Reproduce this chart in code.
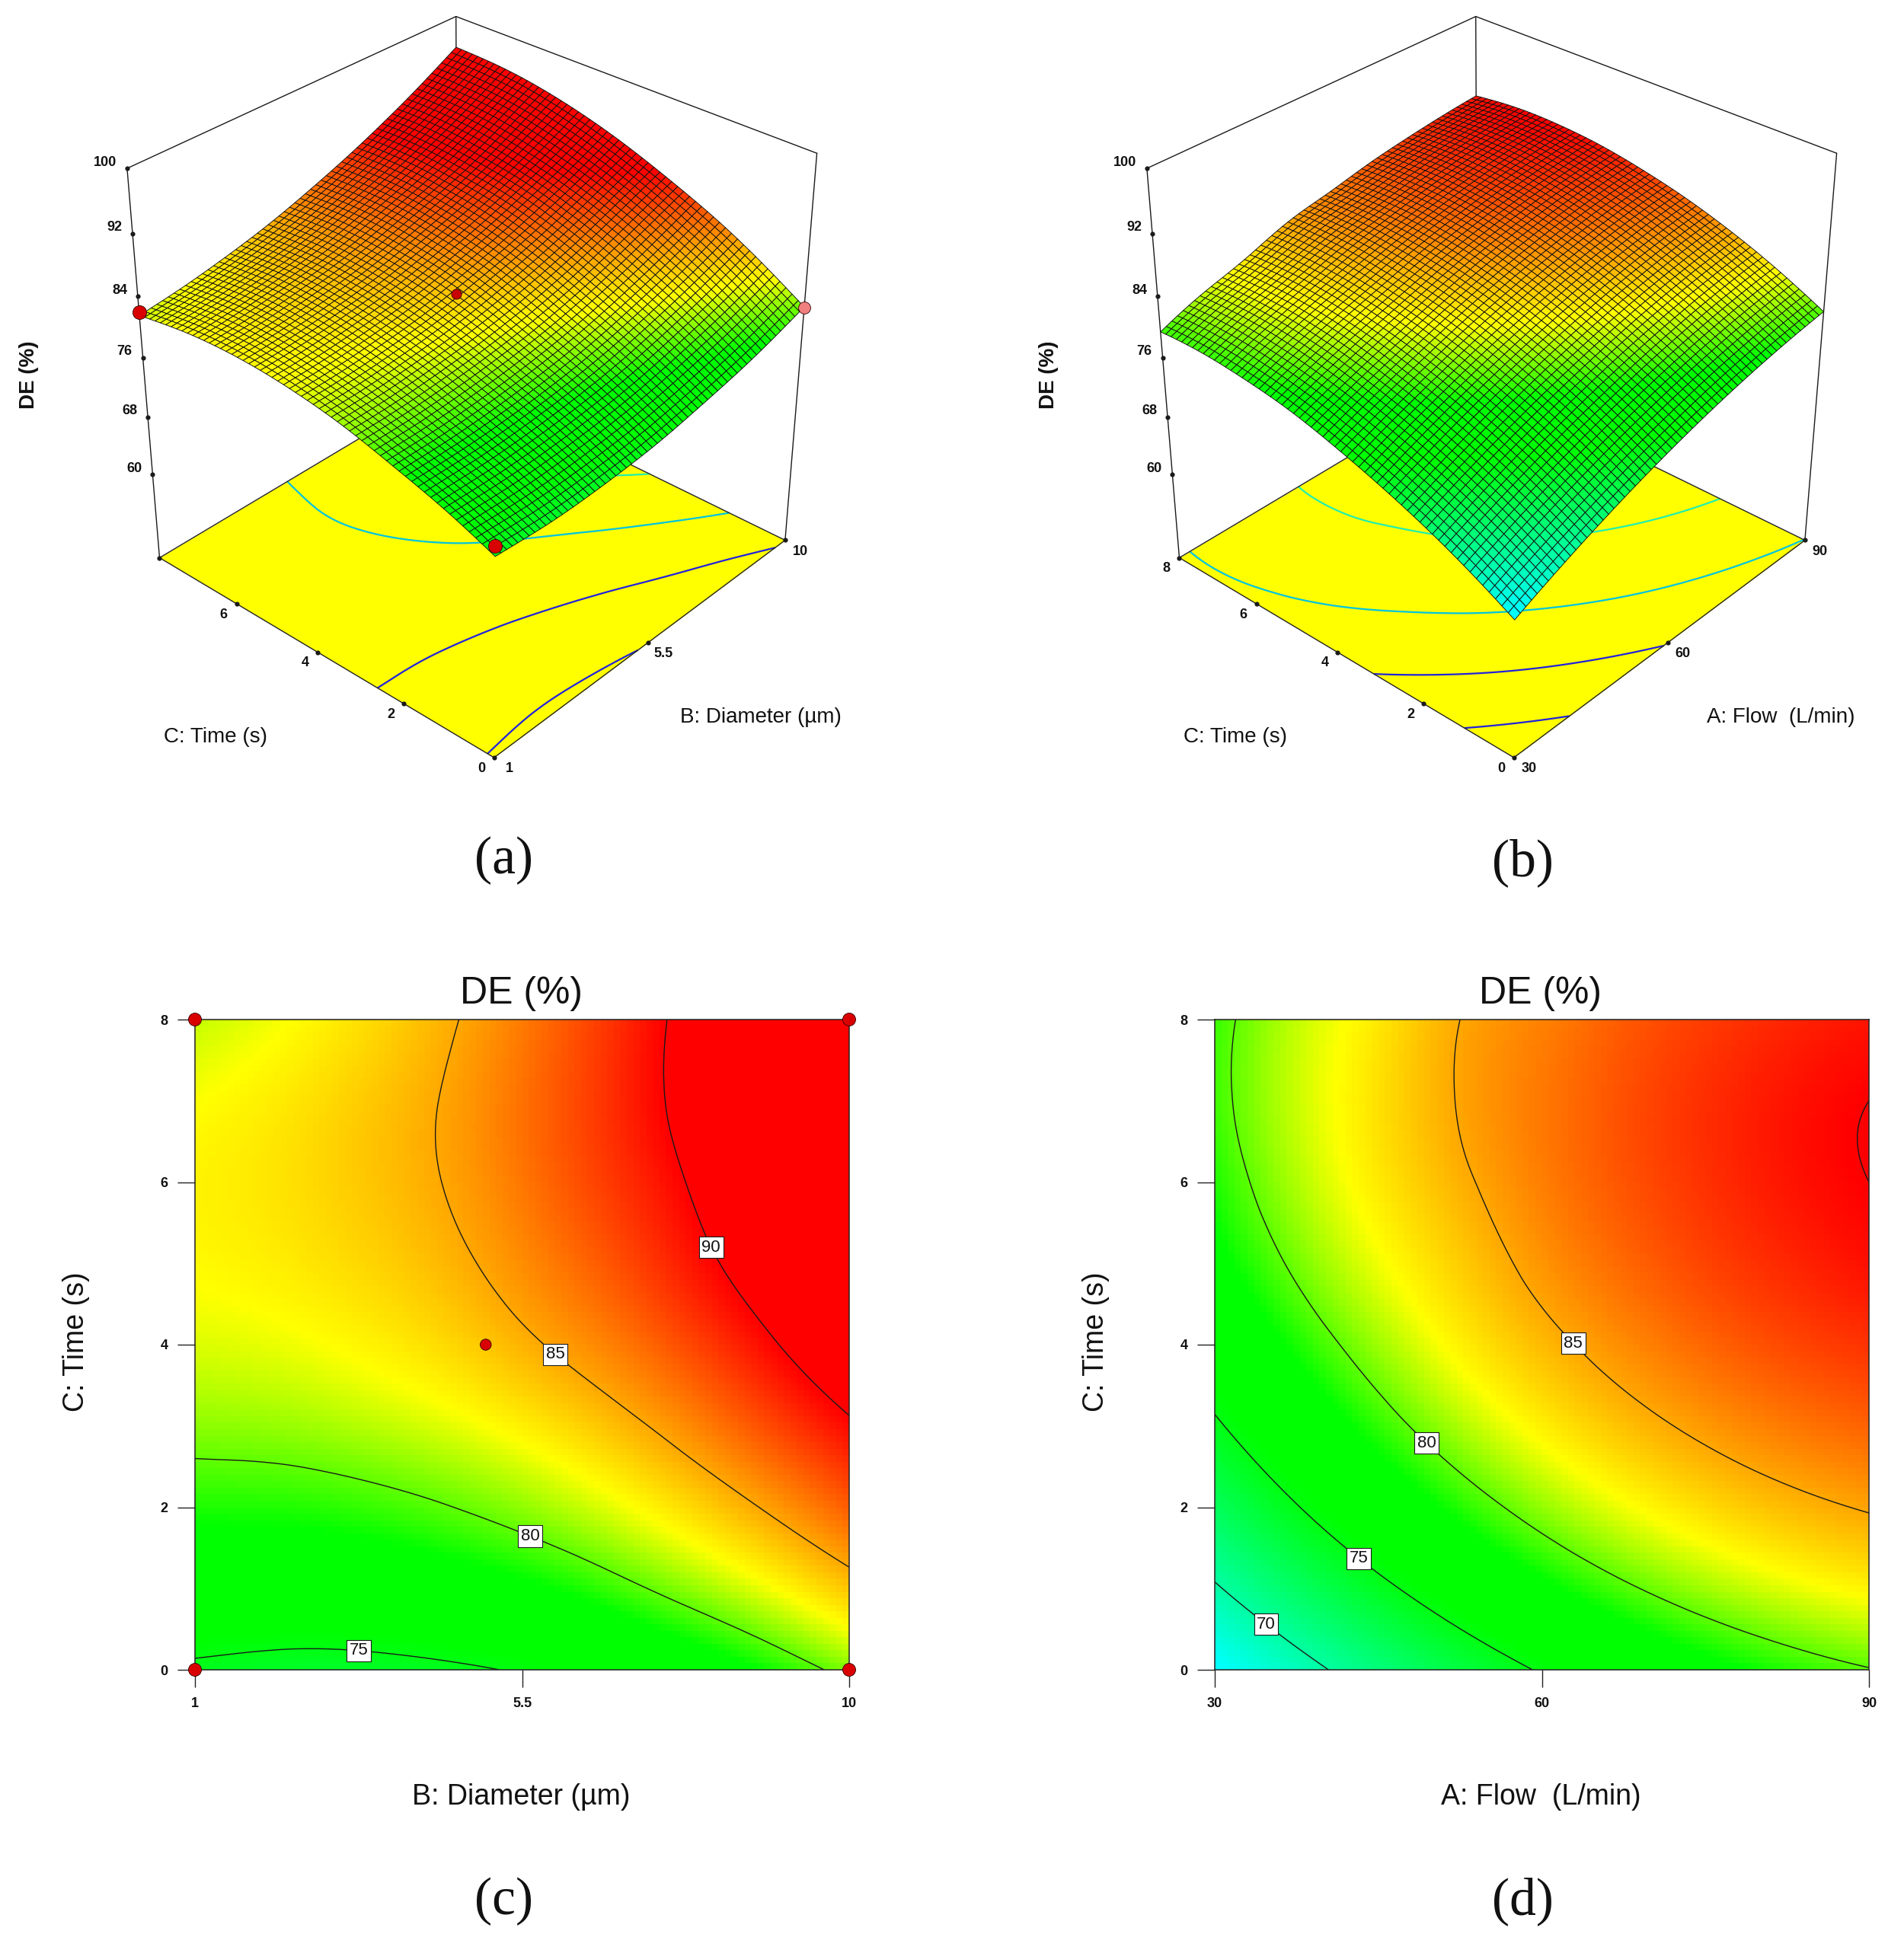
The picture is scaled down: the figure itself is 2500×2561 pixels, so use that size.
import numpy as np, pandas as pd, seaborn as sns
import matplotlib
matplotlib.use('Agg')
import matplotlib.pyplot as plt
from matplotlib.colors import LinearSegmentedColormap, Normalize
from matplotlib.tri import Triangulation, CubicTriInterpolator
from mpl_toolkits.mplot3d import proj3d

FW, FH = 2500, 2561
diameter_grid = [1, 2.125, 3.25, 4.375, 5.5, 6.625, 7.75, 8.875, 10]
flow_grid = [30, 37.5, 45, 52.5, 60, 67.5, 75, 82.5, 90]
time_grid = [0, 1, 2, 3, 4, 5, 6, 7, 8]
de_diameter_time = [
 [74.64,74.30,74.29,74.62,75.20,76.19,77.34,78.79,80.54],
 [77.05,76.95,77.10,77.55,78.25,79.30,80.66,82.24,84.13],
 [78.95,79.00,79.30,79.88,80.72,81.90,83.42,85.20,87.20],
 [80.65,80.80,81.25,81.90,82.85,84.15,85.80,87.72,89.70],
 [81.85,82.10,82.65,83.45,84.64,86.04,87.74,89.70,91.90],
 [82.55,82.90,83.55,84.45,85.78,87.32,89.16,91.25,93.65],
 [82.74,83.21,83.99,84.98,86.44,88.12,90.00,92.37,94.93],
 [82.38,82.99,83.90,85.03,86.63,88.44,90.56,92.97,95.68],
 [81.54,82.29,83.34,84.65,86.34,88.29,90.54,93.09,95.94]]
de_flow_time = [
 [66.56,69.08,71.36,73.40,75.19,76.74,78.04,79.10,79.92],
 [69.76,72.24,74.47,76.47,78.22,79.73,80.99,82.00,82.78],
 [72.47,74.90,77.10,79.05,80.76,82.23,83.44,84.42,85.15],
 [74.71,77.10,79.25,81.17,82.83,84.25,85.43,86.36,87.05],
 [76.60,78.90,80.93,82.80,84.42,85.80,86.93,87.82,88.47],
 [78.10,80.30,82.20,83.90,85.55,86.87,87.96,88.80,89.50],
 [79.00,81.20,83.02,84.70,86.20,87.46,88.50,89.35,90.00],
 [79.50,81.60,83.32,85.10,86.40,87.60,88.60,89.40,90.00],
 [79.40,81.50,83.10,85.00,86.15,87.30,88.20,88.90,89.40]]
z_ticks = [60, 68, 76, 84, 92, 100]
time_ticks = [2, 4, 6]
colour_values = [66.5, 75.5, 78.5, 82.4, 90.0]
colour_names = ['#00ffff', '#00ff00', '#00ff00', '#ffff00', '#ff0000']

sns.set_theme(style='white')
plt.rcParams['font.family'] = ['Liberation Sans', 'DejaVu Sans']
lo, hi = colour_values[0], colour_values[-1]
cmap = LinearSegmentedColormap.from_list('de', [((v-lo)/(hi-lo), c) for v, c in zip(colour_values, colour_names)], N=512)
norm = Normalize(lo, hi)

def refine(xs, ys, table, n):
    gx, gy = np.meshgrid(xs, ys)
    sx = (xs[-1]-xs[0]); sy = ys[-1]-ys[0]
    tri = Triangulation((gx.ravel()-xs[0])/sx, (gy.ravel()-ys[0])/sy)
    f = CubicTriInterpolator(tri, np.asarray(table).ravel(), kind='min_E')
    u = np.linspace(1e-7, 1-1e-7, n)
    U, V = np.meshgrid(u, u)
    Z = np.asarray(f(U, V))
    return xs[0]+u*sx, ys[0]+u*sy, Z

fig = plt.figure(figsize=(FW/100, FH/100), dpi=100, facecolor='white')

def px(x, y):
    return x/FW, 1-y/FH

ELEV, AZIM, HZ, RY, ZOOM = 32.38, -138.0, 0.993, 1.011, 1.671
LEFT, TOP, WID = 308.4, 181.2, 611.1

def panel3d(dx, xs, table, xticks, levels, dots, label_last):
    ax = fig.add_axes([(LEFT+dx)/FW, 1-(TOP+WID)/FH, WID/FW, WID/FH], projection='3d', computed_zorder=False)
    ax.patch.set_alpha(0)
    xl, xh, yl, yh, zl, zh = xs[0], xs[-1], time_grid[0], time_grid[-1], 48, 100
    ax.set_xlim(xl, xh, view_margin=0); ax.set_ylim(yl, yh, view_margin=0); ax.set_zlim(zl, zh, view_margin=0)
    ax.set_proj_type('persp'); ax.view_init(ELEV, AZIM); ax.set_box_aspect((1, RY, HZ), zoom=ZOOM)
    ax.set_axis_off()
    kw = dict(color='k', lw=1.0, zorder=1)
    ax.plot([xh, xl], [yh, yh], [zh, zh], **kw); ax.plot([xh, xh], [yh, yl], [zh, zh], **kw)
    ax.plot([xh, xh], [yh, yh], [zl, zh], **kw)
    ax.plot([xl, xl], [yh, yh], [zl, zh], **kw); ax.plot([xh, xh], [yl, yl], [zl, zh], **kw)
    F = np.array([[xl, xh], [xl, xh]]); G = np.array([[yl, yl], [yh, yh]])
    ax.plot_surface(F, G, np.full((2, 2), zl), color='#ffff00', shade=False, linewidth=0, zorder=2)
    fx, fy, fz = refine(xs, time_grid, table, 200)
    ax.contour(fx, fy, fz, levels=levels, zdir='z', offset=zl, colors=['#2222dd', '#2222dd', '#00c4e0', '#20efb0'], linewidths=1.6, zorder=3)
    kw = dict(color='#222222', lw=1.0, zorder=4)
    ax.plot([xl, xh], [yl, yl], [zl, zl], **kw); ax.plot([xl, xl], [yl, yh], [zl, zl], **kw)
    ax.plot([xh, xh], [yl, yh], [zl, zl], **kw); ax.plot([xl, xh], [yh, yh], [zl, zl], **kw)
    mx, my, mz = refine(xs, time_grid, table, 61)
    MX, MY = np.meshgrid(mx, my)
    ax.plot_surface(MX, MY, mz, facecolors=cmap(norm(mz)), shade=False, edgecolor='#101010', linewidth=0.65, rcount=61, ccount=61, zorder=5)
    M = ax.get_proj()
    def lab(x, y, z, text, ddx, ddy, ha='center'):
        X, Y, _ = proj3d.proj_transform(x, y, z, M)
        ax.annotate(text, xy=(X, Y), xycoords='data', xytext=(ddx, ddy), textcoords='offset pixels', ha=ha, va='center', fontsize=13, fontweight='bold', color='#111111', annotation_clip=False)
    tx, ty, tz = [], [], []
    for v in z_ticks:
        tx.append(xl); ty.append(yh); tz.append(v); lab(xl, yh, v, str(v), -14, 8, 'right')
    for v in time_ticks:
        tx.append(xl); ty.append(v); tz.append(zl); lab(xl, v, zl, str(v), -17, -14)
    tx.append(xl); ty.append(yh); tz.append(zl)
    if label_last:
        lab(xl, yh, zl, str(yh), -17, -14)
    lab(xl, yl, zl, '0', -16, -15)
    for v, t in xticks:
        tx.append(v); ty.append(yl); tz.append(zl); lab(v, yl, zl, t, 20, -15)
    ax.scatter(tx, ty, tz, s=20, c='k', depthshade=False, linewidths=0, zorder=7)
    for (x, y, z, c, sz) in dots:
        ax.scatter([x], [y], [z], s=sz, c=c, edgecolors='#300000', linewidths=.6, depthshade=False, zorder=6)
    for art in ax.get_children():
        art.set_clip_on(False)
    return ax

panel3d(0, diameter_grid, de_diameter_time, [(1, '1'), (5.5, '5.5'), (10, '10')], [75, 80, 85, 90],
        [(1, 8, 82, '#d80000', 170), (10, 0, 80.5, '#f08080', 130), (1, 0, 76, '#d80000', 170), (5, 4, 84.6, '#c80000', 90)], False)
panel3d(1339, flow_grid, de_flow_time, [(30, '30'), (60, '60'), (90, '90')], [70, 75, 80, 85], [], True)

def panel2d(x_left, xs, table, xt, xtl, levels, manual, dots):
    pos = [x_left/FW, 1-2193/FH, 859/FW, 854/FH]
    ax = fig.add_axes(pos)
    hx, hy, hz = refine(xs, time_grid, table, 100)
    df = pd.DataFrame(hz[::-1], index=np.round(hy[::-1], 3), columns=np.round(hx, 3))
    sns.heatmap(df, ax=ax, cmap=cmap, norm=norm, cbar=False, xticklabels=False, yticklabels=False)
    ax.set_xlabel(''); ax.set_ylabel('')
    ov = fig.add_axes(pos); ov.patch.set_alpha(0)
    ov.set_xlim(xs[0], xs[-1]); ov.set_ylim(0, 8)
    cx_, cy_, cz_ = refine(xs, time_grid, table, 300)
    cs = ov.contour(cx_, cy_, cz_, levels=levels, colors='k', linewidths=1.0)
    txts = ov.clabel(cs, manual=manual, inline=False, fmt='%d', fontsize=16)
    for t in txts:
        t.set_rotation(0); t.set_transform_rotates_text(False)
        t.set_bbox(dict(fc='white', ec='k', lw=.8, pad=2.5)); t.set_zorder(8); t.set_color('#111111')
    ov.set_xticks(xt, xtl); ov.set_yticks([0, 2, 4, 6, 8])
    ov.tick_params(length=16.6, width=1.0, color='#222222', labelsize=13, pad=9, left=True, bottom=True, labelcolor='#111111')
    for l in ov.get_xticklabels()+ov.get_yticklabels():
        l.set_fontweight('bold')
    for sp in ov.spines.values():
        sp.set_visible(True); sp.set_color('#222222'); sp.set_linewidth(1.1)
    if dots:
        ov.scatter([d[0] for d in dots], [d[1] for d in dots], s=[d[2] for d in dots], c='#d80000', edgecolors='#300000', linewidths=.6, clip_on=False, zorder=9)

panel2d(256, diameter_grid, de_diameter_time, [1, 5.5, 10], ['1', '5.5', '10'], [75, 80, 85, 90],
        [(3.26, .34), (5.64, 1.71), (6.03, 3.96), (8.17, 5.23)], [(1, 8, 150), (10, 8, 150), (1, 0, 150), (10, 0, 150), (5, 4, 110)])
panel2d(1595, flow_grid, de_flow_time, [30, 60, 90], ['30', '60', '90'], [70, 75, 80, 85, 90],
        [(35, .61), (43.5, 1.42), (49.6, 2.81), (62.9, 4.02)], [])

def T_(x, y, s, size, **kw):
    fig.text(*px(x, y), s, fontsize=size, ha='center', va='center', color='#111111', **kw)

for dx, name in [(0, 'B: Diameter (µm)'), (1339, 'A: Flow  (L/min)')]:
    T_(38+dx, 492, 'DE (%)', 20, rotation=90, fontweight='bold')
    T_(283+dx, 968, 'C: Time (s)', 20)
    T_(999+dx, 942, name, 20)
    T_(684+dx, 1305, 'DE (%)', 36)
    T_(100+dx, 1762, 'C: Time (s)', 27, rotation=90)
    T_(684+dx, 2360, name, 27)
for x, y, s in [(661, 1130, '(a)'), (1999, 1133, '(b)'), (661, 2497, '(c)'), (1999, 2497, '(d)')]:
    T_(x, y, s, 50, family=['Liberation Serif'])
fig.savefig('out.png', dpi=100, facecolor='white')
